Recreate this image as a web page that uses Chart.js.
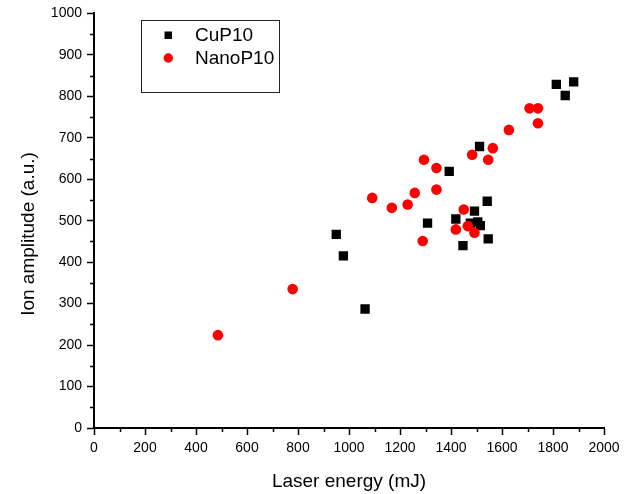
<!DOCTYPE html>
<html>
<head>
<meta charset="utf-8">
<script src="https://cdn.jsdelivr.net/npm/chart.js@4"></script>
<style>
  html, body { margin: 0; padding: 0; background: #fff; }
  #wrap { width: 628px; height: 494px; }
</style>
</head>
<body>
<div id="wrap"><canvas id="c" width="628" height="494"></canvas></div>
<script>
// Laser energy (mJ) and ion amplitude (a.u.) for each target
const energyCu = [950, 978, 1063, 1308, 1393, 1419, 1447, 1476, 1492, 1505, 1512, 1515, 1542, 1546, 1813, 1848, 1881];
const ampCu    = [467, 415,  287,  494,  619,  504,  440,  494,  523,  497,  679,  488,  547,  456,  829,  802,  835];

const energyNano = [486, 779, 1091, 1168, 1230, 1258, 1289, 1294, 1343, 1343, 1419, 1450, 1466, 1483, 1492, 1546, 1564, 1627, 1708, 1741, 1741];
const ampNano    = [224, 335,  555,  531,  539,  567,  451,  647,  627,  575,  479,  527,  487,  659,  471,  647,  675,  719,  771,  771,  735];

const seriesNames = ['CuP10', 'NanoP10'];
const xTitle = 'Laser energy (mJ)';
const yTitle = 'Ion amplitude (a.u.)';

const FONT = '"Liberation Sans", Arial, Helvetica, sans-serif';

function toPoints(xs, ys) {
  return xs.map((x, i) => ({ x: x, y: ys[i] }));
}

// plain integer tick labels, no grouping separators
const plainLabel = (v) => String(v);

// short unlabelled ticks halfway between the labelled ones
const minorTicks = {
  id: 'minorTicks',
  afterDraw(chart) {
    const ctx = chart.ctx;
    const xs = chart.scales.x, ys = chart.scales.y;
    ctx.save();
    ctx.strokeStyle = '#000';
    ctx.lineWidth = 1.5;
    ctx.beginPath();
    for (let v = 100; v < 2000; v += 200) {
      const px = Math.round(xs.getPixelForValue(v)) + 0.5;
      ctx.moveTo(px, xs.top);
      ctx.lineTo(px, xs.top + 4);
    }
    for (let v = 50; v < 1000; v += 100) {
      const py = Math.round(ys.getPixelForValue(v)) + 0.5;
      ctx.moveTo(ys.right, py);
      ctx.lineTo(ys.right - 4, py);
    }
    ctx.stroke();
    ctx.restore();
  }
};

// rotated title for the vertical axis
const yAxisTitle = {
  id: 'yAxisTitle',
  afterDraw(chart) {
    const ctx = chart.ctx;
    ctx.save();
    ctx.translate(29, 234);
    ctx.rotate(-Math.PI / 2);
    ctx.fillStyle = '#000';
    ctx.font = '19px ' + FONT;
    ctx.textAlign = 'center';
    ctx.textBaseline = 'middle';
    ctx.fillText(yTitle, 0, 0);
    ctx.restore();
  }
};

// boxed legend in the upper left of the plot
const boxLegend = {
  id: 'boxLegend',
  afterDraw(chart) {
    const ctx = chart.ctx;
    const sets = chart.data.datasets.slice().sort((a, b) => a.legendIndex - b.legendIndex);
    ctx.save();
    ctx.strokeStyle = '#222';
    ctx.lineWidth = 1;
    ctx.strokeRect(141.5, 20.5, 138, 72);
    ctx.font = '19px ' + FONT;
    ctx.textBaseline = 'middle';
    ctx.textAlign = 'left';
    sets.forEach((ds, i) => {
      const cy = 35 + i * 23;
      ctx.fillStyle = ds.backgroundColor;
      if (ds.pointStyle === 'rect') {
        ctx.fillRect(164.5, cy - 3.5, 7.5, 7.5);
      } else {
        ctx.beginPath();
        ctx.arc(168.3, cy, 4.7, 0, Math.PI * 2);
        ctx.fill();
      }
      ctx.fillStyle = '#000';
      ctx.fillText(ds.label, 195, cy + 1);
    });
    ctx.restore();
  }
};

new Chart(document.getElementById('c'), {
  type: 'scatter',
  data: {
    datasets: [
      {
        label: seriesNames[0],
        legendIndex: 0,
        order: 1,
        data: toPoints(energyCu, ampCu),
        pointStyle: 'rect',
        pointRadius: 6.6,
        backgroundColor: '#000000',
        borderColor: '#000000',
        borderWidth: 0
      },
      {
        label: seriesNames[1],
        legendIndex: 1,
        order: 0,
        data: toPoints(energyNano, ampNano),
        pointStyle: 'circle',
        pointRadius: 5.3,
        backgroundColor: '#ff0000',
        borderColor: '#ff0000',
        borderWidth: 0
      }
    ]
  },
  options: {
    responsive: false,
    animation: false,
    devicePixelRatio: 1,
    layout: { padding: { left: 0, top: 13, right: 24, bottom: 0 } },
    plugins: {
      legend: { display: false },
      tooltip: { enabled: false }
    },
    scales: {
      x: {
        type: 'linear',
        min: 0,
        max: 2000,
        afterFit(s) { s.height = 66; },
        ticks: {
          stepSize: 200,
          color: '#000',
          padding: 5,
          maxRotation: 0,
          callback: plainLabel,
          font: { family: FONT, size: 14 }
        },
        grid: {
          drawOnChartArea: false,
          drawTicks: true,
          tickLength: 7,
          tickColor: '#000',
          tickWidth: 1.5
        },
        border: { display: true, color: '#000', width: 2 },
        title: {
          display: true,
          text: xTitle,
          color: '#000',
          font: { family: FONT, size: 19 },
          padding: { top: 4, bottom: 1 }
        }
      },
      y: {
        type: 'linear',
        min: 0,
        max: 1000,
        afterFit(s) { s.width = 94; },
        ticks: {
          stepSize: 100,
          color: '#000',
          padding: 5,
          callback: plainLabel,
          font: { family: FONT, size: 14 }
        },
        grid: {
          drawOnChartArea: false,
          drawTicks: true,
          tickLength: 7,
          tickColor: '#000',
          tickWidth: 1.5
        },
        border: { display: true, color: '#000', width: 2 }
      }
    }
  },
  plugins: [minorTicks, yAxisTitle, boxLegend]
});
</script>
</body>
</html>
